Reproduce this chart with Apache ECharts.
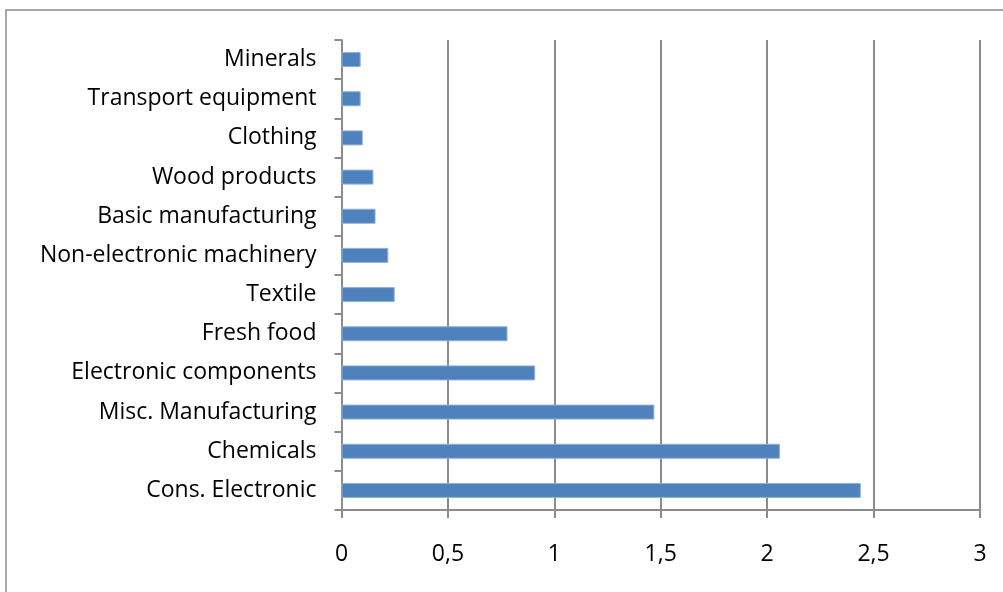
<!DOCTYPE html>
<html>
<head>
<meta charset="utf-8">
<script src="https://cdn.jsdelivr.net/npm/echarts@6/dist/echarts.min.js"></script>
<style>
html,body{margin:0;padding:0;background:#fff;}
#c{width:1003px;height:592px;}
</style>
</head>
<body>
<div id="c"></div>
<script>
// Categories listed top to bottom as they appear
const categories = ["Minerals","Transport equipment","Clothing","Wood products","Basic manufacturing","Non-electronic machinery","Textile","Fresh food","Electronic components","Misc. Manufacturing","Chemicals","Cons. Electronic"];
const values = [0.09,0.09,0.10,0.15,0.16,0.22,0.25,0.78,0.91,1.47,2.06,2.44];
const xTicks = [0,0.5,1,1.5,2,2.5,3];

const chart = echarts.init(document.getElementById('c'), null, {renderer:'canvas'});
const font = '"Open Sans", sans-serif';
chart.setOption({
  animation:false,
  backgroundColor:'#fff',
  graphic:[{type:'rect',shape:{x:6,y:10,width:1100,height:700},style:{fill:'none',stroke:'#8c8c8c',lineWidth:1.5},silent:true}],
  grid:{left:341.5,right:23,top:40,bottom:82,containLabel:false},
  xAxis:{
    type:'value',min:xTicks[0],max:xTicks[xTicks.length-1],interval:0.5,
    axisLine:{show:true,lineStyle:{color:'#8c8c8c',width:2}},
    axisTick:{show:true,length:8,lineStyle:{color:'#8c8c8c',width:2}},
    splitLine:{show:true,lineStyle:{color:'#8c8c8c',width:2}},
    axisLabel:{color:'#000',fontSize:23,fontFamily:font,margin:33,formatter:v=>String(v).replace('.',',')}
  },
  yAxis:{
    type:'category',data:categories,inverse:true,
    axisLine:{show:true,lineStyle:{color:'#8c8c8c',width:2}},
    axisTick:{show:true,length:7,alignWithLabel:false,lineStyle:{color:'#8c8c8c',width:2}},
    splitLine:{show:false},
    axisLabel:{color:'#000',fontSize:23,fontFamily:font,margin:25,padding:[4,0,0,0]}
  },
  series:[{
    type:'bar',data:values,barWidth:15,
    itemStyle:{color:'#4F81BD',borderColor:'#8fb1da',borderWidth:1}
  }]
});
</script>
</body>
</html>
